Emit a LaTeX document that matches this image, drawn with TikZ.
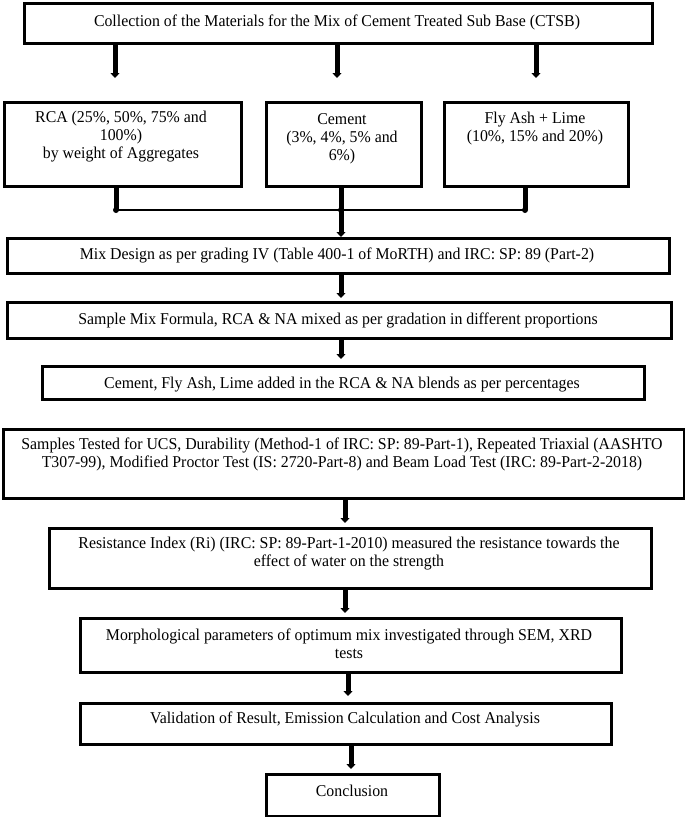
\documentclass[tikz,border=0pt]{standalone}
\usepackage{fontspec}
\setmainfont{Liberation Serif}[FakeStretch=0.96]
\usetikzlibrary{arrows.meta}
\begin{document}
\begin{tikzpicture}[x=1pt,y=-1pt,
  box/.style={draw,line width=3pt,inner sep=0pt,anchor=north west},
  txt/.style={inner sep=0pt,align=center,font=\fontsize{16.5}{18}\selectfont},
  arr/.style={line width=5pt,-{Triangle[width=9pt,length=5pt]}},
  thin/.style={line width=2pt}]
\useasboundingbox (0,0) rectangle (685,817);
% boxes
\node[box,minimum width=628pt,minimum height=40pt] (top) at (23,2) {};
\node[box,minimum width=237pt,minimum height=84pt] (rca) at (3,101) {};
\node[box,minimum width=155pt,minimum height=84pt] (cem) at (265,101) {};
\node[box,minimum width=184pt,minimum height=84pt] (fly) at (443,101) {};
\node[box,minimum width=662pt,minimum height=35pt] (mix) at (6,237) {};
\node[box,minimum width=664pt,minimum height=36pt] (smp) at (6,301) {};
\node[box,minimum width=602pt,minimum height=33pt] (cfl) at (41,365) {};
\node[box,minimum width=681pt,minimum height=69pt] (tst) at (2,428) {};
\node[box,minimum width=602pt,minimum height=60pt] (res) at (48,527) {};
\node[box,minimum width=541pt,minimum height=54pt] (mor) at (79,617) {};
\node[box,minimum width=531pt,minimum height=41pt] (val) at (79,702) {};
\node[box,minimum width=173pt,minimum height=42pt] (con) at (265,773) {};
% texts
\node[txt] (ttop) at (337,22) {Collection of the Materials for the Mix of Cement Treated Sub Base (CTSB)};
\node[txt] (trca) at (121,137) {RCA (25\%, 50\%, 75\% and\\100\%)\\by weight of Aggregates};
\node[txt] (tcem) at (342,138.5) {Cement\\(3\%, 4\%, 5\% and\\6\%)};
\node[txt] (tfly) at (535,129) {Fly Ash + Lime\\(10\%, 15\% and 20\%)};
\node[txt] (tmix) at (337,255) {Mix Design as per grading IV (Table 400-1 of MoRTH) and IRC: SP: 89 (Part-2)};
\node[txt] (tsmp) at (338,320) {Sample Mix Formula, RCA \& NA mixed as per gradation in different proportions};
\node[txt] (tcfl) at (342,385) {Cement, Fly Ash, Lime added in the RCA \& NA blends as per percentages};
\node[txt] (ttst) at (342,454.5) {Samples Tested for UCS, Durability (Method-1 of IRC: SP: 89-Part-1), Repeated Triaxial (AASHTO\\T307-99), Modified Proctor Test (IS: 2720-Part-8) and Beam Load Test (IRC: 89-Part-2-2018)};
\node[txt] (tres) at (349,553.5) {Resistance Index (Ri) (IRC: SP: 89-Part-1-2010) measured the resistance towards the\\effect of water on the strength};
\node[txt] (tmor) at (349,644) {Morphological parameters of optimum mix investigated through SEM, XRD\\tests};
\node[txt] (tval) at (345,719) {Validation of Result, Emission Calculation and Cost Analysis};
\node[txt] (tcon) at (352,791) {Conclusion};
% connectors from top box
\draw[arr] (top.south -| 115,0) -- ([yshift=23pt]rca.north -| 115,0);
\draw[arr] (top.south -| 337,0) -- ([yshift=23pt]cem.north -| 337,0);
\draw[arr] (top.south -| 536,0) -- ([yshift=23pt]fly.north -| 536,0);
% merge
\coordinate (jl) at (116,210);
\coordinate (jc) at (341,210);
\coordinate (jr) at (525,210);
\draw[line width=5pt] (rca.south -| jl) -- (jl);
\draw[line width=5pt] (cem.south -| jc) -- (jc);
\draw[line width=5pt] (fly.south -| jr) -- (jr);
\fill (jl) circle (3pt) (jc) circle (3pt) (jr) circle (3pt);
\draw[thin] (jl) -- (jr);
\draw[arr] (jc) -- (mix.north -| jc);
% chain
\draw[arr] (mix.south -| 341,0) -- ([yshift=3pt]smp.north -| 341,0);
\draw[arr] (smp.south -| 341,0) -- ([yshift=6pt]cfl.north -| 341,0);
\draw[arr] (tst.south -| 345,0) -- ([yshift=4pt]res.north -| 345,0);
\draw[arr] (res.south -| 345,0) -- ([yshift=4pt]mor.north -| 345,0);
\draw[arr] (mor.south -| 348,0) -- ([yshift=6pt]val.north -| 348,0);
\draw[arr] (val.south -| 351,0) -- ([yshift=4pt]con.north -| 351,0);
\end{tikzpicture}
\end{document}
